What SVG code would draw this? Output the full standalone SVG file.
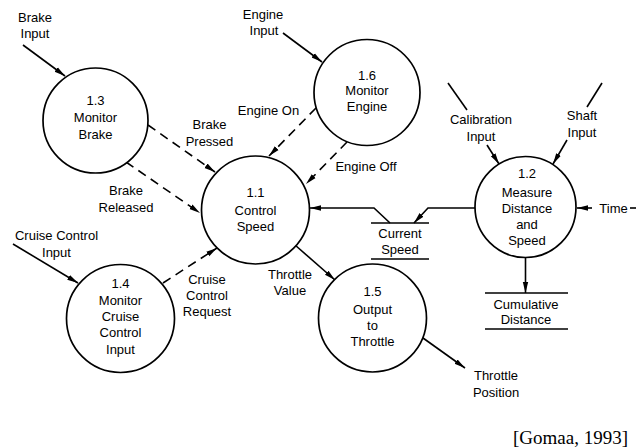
<svg xmlns="http://www.w3.org/2000/svg" width="639" height="448" viewBox="0 0 639 448">
  <style>
    .proc { fill: #fff; stroke: #000; stroke-width: 1.7; }
    .lbl { font-family: "Liberation Sans", Arial, sans-serif; font-size: 13px; fill: #000; text-anchor: middle; }
    .flow { fill: none; stroke: #000; stroke-width: 1.6; }
    .ctl { fill: none; stroke: #000; stroke-width: 1.6; stroke-dasharray: 9 6; }
    .store { stroke: #000; stroke-width: 1.5; }
    .cite { font-family: "Liberation Serif", "Times New Roman", serif; font-size: 19px; fill: #000; text-anchor: end; }
  </style>
  <defs>
    <marker id="arrow" markerUnits="userSpaceOnUse" markerWidth="12" markerHeight="8" refX="11" refY="3.5" orient="auto">
      <path d="M0,0.8 L11,3.5 L0,6.2 Z" fill="#000" stroke="none"/>
    </marker>
  </defs>

  <rect width="639" height="448" fill="#fff"/>

  <!-- connectors: data flows (solid) and control flows (dashed) -->
  <g id="connectors">
    <line class="flow" x1="23" y1="45" x2="65" y2="76" marker-end="url(#arrow)"/>
    <line class="flow" x1="283" y1="33" x2="322" y2="62" marker-end="url(#arrow)"/>
    <line class="flow" x1="13" y1="244" x2="78" y2="283" marker-end="url(#arrow)"/>

    <line class="ctl" x1="148" y1="125" x2="215" y2="172" marker-end="url(#arrow)"/>
    <line class="ctl" x1="126" y1="162" x2="200" y2="213" marker-end="url(#arrow)"/>
    <line class="ctl" x1="316" y1="108" x2="269" y2="156" marker-end="url(#arrow)"/>
    <line class="ctl" x1="347" y1="142" x2="306" y2="184" marker-end="url(#arrow)"/>
    <line class="ctl" x1="163" y1="283" x2="217" y2="248" marker-end="url(#arrow)"/>

    <line class="flow" x1="295" y1="245" x2="335" y2="280" marker-end="url(#arrow)"/>
    <line class="flow" x1="423" y1="338" x2="465" y2="368" marker-end="url(#arrow)"/>

    <!-- Current Speed store in and out -->
    <polyline class="flow" points="475,208 428,208 414,223" marker-end="url(#arrow)"/>
    <polyline class="flow" points="390,223 374,208 310,208" marker-end="url(#arrow)"/>

    <!-- Cumulative Distance store -->
    <line class="flow" x1="525.5" y1="257" x2="525.5" y2="293" marker-end="url(#arrow)"/>

    <!-- inputs to 1.2 -->
    <line class="flow" x1="448" y1="83" x2="467" y2="110"/>
    <line class="flow" x1="487" y1="145" x2="499" y2="164" marker-end="url(#arrow)"/>
    <line class="flow" x1="602" y1="83" x2="587" y2="107"/>
    <line class="flow" x1="567" y1="140" x2="553" y2="164" marker-end="url(#arrow)"/>
    <line class="flow" x1="592" y1="208" x2="577" y2="208" marker-end="url(#arrow)"/>
    <line class="flow" x1="630" y1="208" x2="636" y2="208"/>
  </g>

  <!-- data stores -->
  <g id="store-current-speed">
    <line class="store" x1="371" y1="223" x2="429" y2="223"/>
    <line class="store" x1="371" y1="259" x2="429" y2="259"/>
    <text class="lbl" x="400" y="237.5">Current</text>
    <text class="lbl" x="400" y="253.5">Speed</text>
  </g>
  <g id="store-cumulative-distance">
    <line class="store" x1="485" y1="293" x2="568" y2="293"/>
    <line class="store" x1="485" y1="329" x2="568" y2="329"/>
    <text class="lbl" x="526" y="308.5">Cumulative</text>
    <text class="lbl" x="526" y="324">Distance</text>
  </g>

  <!-- processes -->
  <g id="p1-3">
    <circle class="proc" cx="95.5" cy="120.5" r="52.5"/>
    <text class="lbl" x="95.5" y="104.5">1.3</text>
    <text class="lbl" x="95.5" y="122">Monitor</text>
    <text class="lbl" x="95.5" y="138.5">Brake</text>
  </g>
  <g id="p1-6">
    <circle class="proc" cx="367" cy="92.5" r="53"/>
    <text class="lbl" x="367" y="79.5">1.6</text>
    <text class="lbl" x="367" y="95">Monitor</text>
    <text class="lbl" x="367" y="111">Engine</text>
  </g>
  <g id="p1-1">
    <circle class="proc" cx="255.5" cy="210" r="54"/>
    <text class="lbl" x="255.5" y="196.5">1.1</text>
    <text class="lbl" x="255.5" y="214.5">Control</text>
    <text class="lbl" x="255.5" y="230.5">Speed</text>
  </g>
  <g id="p1-2">
    <circle class="proc" cx="525.5" cy="207" r="50.5"/>
    <text class="lbl" x="527" y="177.5">1.2</text>
    <text class="lbl" x="527" y="196.5">Measure</text>
    <text class="lbl" x="527" y="212.5">Distance</text>
    <text class="lbl" x="527" y="228.5">and</text>
    <text class="lbl" x="527" y="245">Speed</text>
  </g>
  <g id="p1-4">
    <circle class="proc" cx="120.5" cy="318.5" r="54"/>
    <text class="lbl" x="120.5" y="287.5">1.4</text>
    <text class="lbl" x="120.5" y="304.5">Monitor</text>
    <text class="lbl" x="120.5" y="320.5">Cruise</text>
    <text class="lbl" x="120.5" y="337">Control</text>
    <text class="lbl" x="120.5" y="353.5">Input</text>
  </g>
  <g id="p1-5">
    <circle class="proc" cx="372.5" cy="318" r="54"/>
    <text class="lbl" x="372.5" y="296">1.5</text>
    <text class="lbl" x="372.5" y="313.5">Output</text>
    <text class="lbl" x="372.5" y="330">to</text>
    <text class="lbl" x="372.5" y="345.5">Throttle</text>
  </g>

  <!-- flow labels -->
  <g id="labels">
    <text class="lbl" x="35" y="21.5">Brake</text>
    <text class="lbl" x="35" y="38">Input</text>
    <text class="lbl" x="263" y="18.5">Engine</text>
    <text class="lbl" x="264" y="34.5">Input</text>
    <text class="lbl" x="56.5" y="240">Cruise Control</text>
    <text class="lbl" x="56.5" y="256.5">Input</text>
    <text class="lbl" x="268.5" y="114.5">Engine On</text>
    <text class="lbl" x="366" y="170.5">Engine Off</text>
    <text class="lbl" x="209.5" y="129">Brake</text>
    <text class="lbl" x="209.5" y="145.5">Pressed</text>
    <text class="lbl" x="126" y="194.5">Brake</text>
    <text class="lbl" x="126" y="211.5">Released</text>
    <text class="lbl" x="207" y="283.5">Cruise</text>
    <text class="lbl" x="207" y="299.5">Control</text>
    <text class="lbl" x="207" y="315.5">Request</text>
    <text class="lbl" x="290" y="278.5">Throttle</text>
    <text class="lbl" x="290" y="294.5">Value</text>
    <text class="lbl" x="496" y="380">Throttle</text>
    <text class="lbl" x="496" y="397">Position</text>
    <text class="lbl" x="481" y="123.5">Calibration</text>
    <text class="lbl" x="481" y="140.5">Input</text>
    <text class="lbl" x="582" y="119.5">Shaft</text>
    <text class="lbl" x="582" y="136.5">Input</text>
    <text class="lbl" x="613.5" y="212.5">Time</text>
  </g>

  <text class="cite" x="628" y="444">[Gomaa, 1993]</text>
</svg>
